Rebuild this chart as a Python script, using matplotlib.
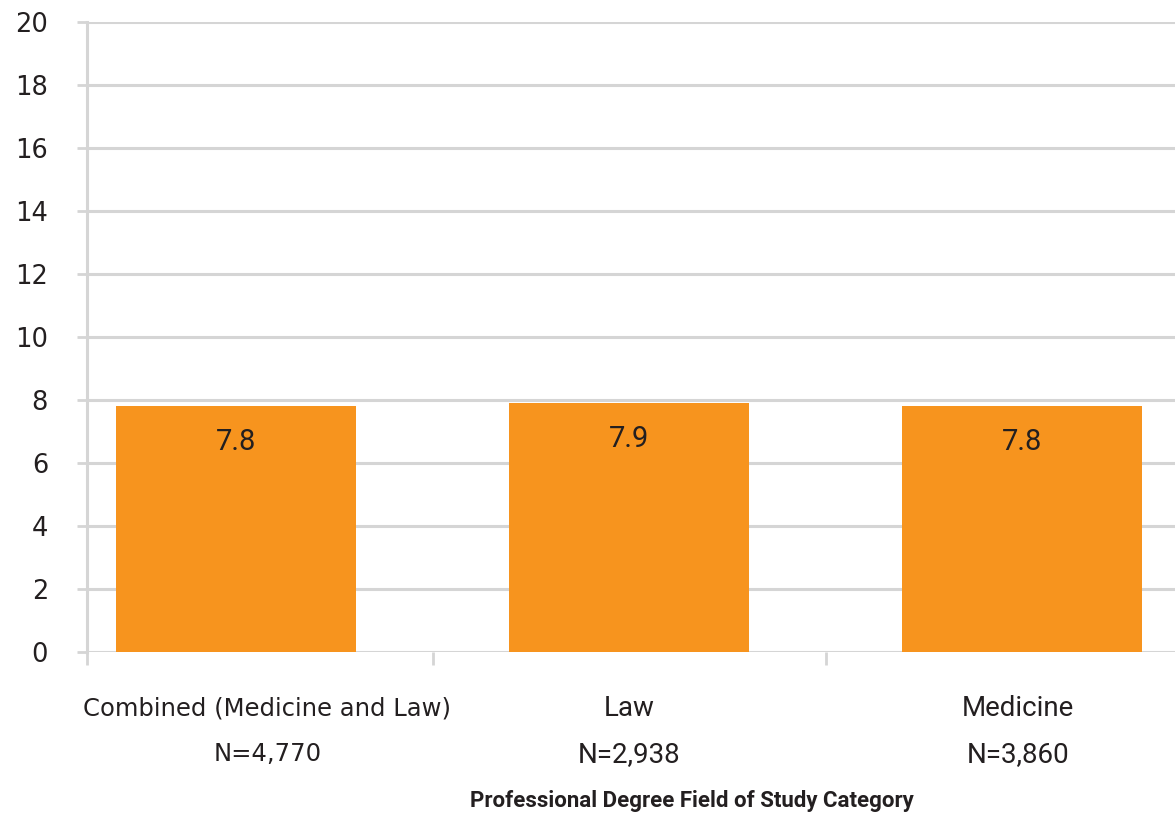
import matplotlib
matplotlib.use("Agg")
import matplotlib.pyplot as plt

# mean values by field of study
categories = ["Combined (Medicine and Law)", "Law", "Medicine"]
sample_sizes = ["N=4,770", "N=2,938", "N=3,860"]
values = [7.8, 7.9, 7.8]
y_ticks = [0, 2, 4, 6, 8, 10, 12, 14, 16, 18, 20]

bar_color = "#F7941E"
grid_color = "#D5D5D5"
text_color = "#231F20"
wide_font = ["DejaVu Sans"]
narrow_font = ["Roboto", "DejaVu Sans"]

fig = plt.figure(figsize=(11.75, 8.13), dpi=100)
ax = fig.add_axes([87 / 1175, 1 - 652 / 813, 1 - 87 / 1175, (652 - 22) / 813])

x = list(range(len(categories)))
bars = ax.bar(x, values, width=0.61, color=bar_color, zorder=3)

## value labels inside the top of each bar
for rect, v in zip(bars, values):
    ax.annotate("%.1f" % v, (rect.get_x() + rect.get_width() / 2, v),
                xytext=(0, -26), textcoords="offset points",
                ha="center", va="center", fontsize=21,
                family=narrow_font, color=text_color, zorder=4)

ax.set_ylim(0, 20)
ax.set_xlim(-0.379, 2.389)
ax.set_yticks(y_ticks)
ax.set_yticklabels([str(t) for t in y_ticks], family=wide_font, fontsize=18.5,
                   color=text_color)
ax.tick_params(axis="y", length=7, width=2, color=grid_color, pad=21)

## ticks on the category boundaries
ax.set_xticks([-0.379, 0.5, 1.5])
ax.set_xticklabels([])
ax.tick_params(axis="x", length=9, width=2, color=grid_color)

ax.grid(axis="y", color=grid_color, linewidth=2.2, zorder=0)
ax.set_axisbelow(True)
for side in ["top", "right", "bottom"]:
    ax.spines[side].set_visible(False)
ax.spines["left"].set_color(grid_color)
ax.spines["left"].set_linewidth(2.2)

## category names with sample sizes beneath
label_x = [0.08, 1.0, 1.99]
label_fonts = [(wide_font, 17.5), (narrow_font, 20), (narrow_font, 20)]
for lx, name, n, (fam, fs) in zip(label_x, categories, sample_sizes, label_fonts):
    ax.text(lx, -1.8, name, ha="center", va="center", family=fam, fontsize=fs,
            color=text_color)
    ax.text(lx, -3.25, n, ha="center", va="center", family=fam, fontsize=fs,
            color=text_color)

fig.text(692 / 1175, 1 - 807 / 813, "Professional Degree Field of Study Category",
         ha="center", va="baseline", family=narrow_font, fontsize=16,
         fontweight="bold", color=text_color)

plt.savefig("out.png", dpi=100)
plt.close()
